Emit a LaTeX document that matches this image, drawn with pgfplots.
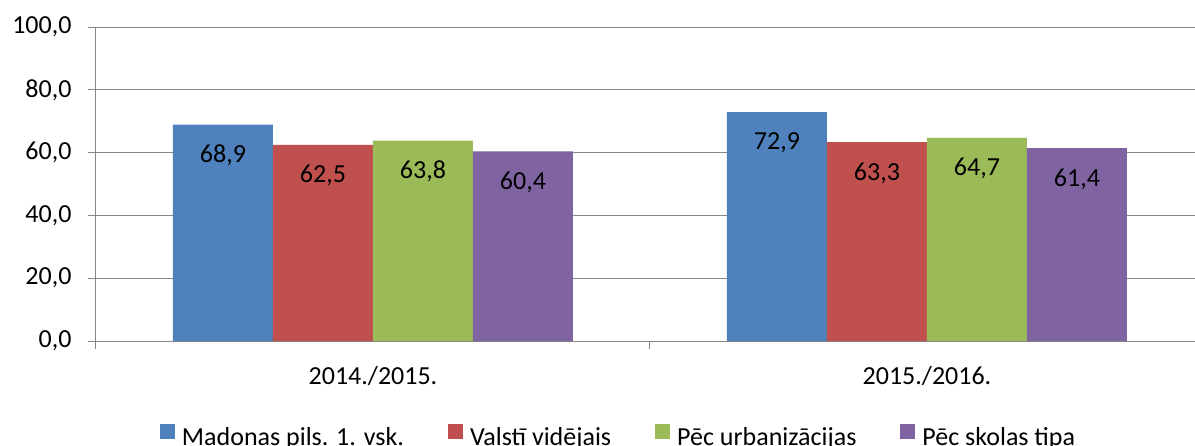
\documentclass[border=0pt]{standalone}
\usepackage{fontspec}
\setmainfont{Carlito}
\usepackage{pgfplots}
\pgfplotsset{compat=1.18}
\definecolor{cblue}{HTML}{4F81BD}
\definecolor{cred}{HTML}{C0504D}
\definecolor{cgreen}{HTML}{9BBB59}
\definecolor{cpurple}{HTML}{8064A2}
\definecolor{gridgray}{HTML}{868686}
\begin{document}
\begin{tikzpicture}
\begin{axis}[
  scale only axis, width=1108pt, height=314pt,
  font=\fontsize{26}{31}\selectfont,
  /pgf/number format/.cd, use comma, fixed, fixed zerofill, precision=1, 1000 sep={}, assume math mode=true,
  /pgfplots/.cd,
  ybar=0pt, bar width=100pt,
  xmin=-0.5, xmax=1.5, ymin=0, ymax=100,
  xtick={-0.5,0.5,1.5}, xticklabels={},
  extra x ticks={0,1}, extra x tick labels={2014./2015.,2015./2016.},
  extra x tick style={major tick length=0pt, grid=none, xticklabel style={yshift=-22pt}},
  ytick={0,20,40,60,80,100},
  ymajorgrids, grid style={gridgray, line width=1pt},
  axis x line*=bottom, axis y line*=left,
  axis line style={-, gridgray, line width=1pt},
  every outer x axis line/.append style={-},
  every outer y axis line/.append style={-},
  tick align=outside, major tick length=8pt,
  tick style={gridgray, line width=1pt},
  yticklabel style={xshift=-13pt},
  nodes near coords,
  every node near coord/.append style={anchor=north, yshift=-17pt, black},
  legend columns=4,
  legend style={draw=none, fill=none, at={(0.4707,-0.300)}, anchor=center,
    font=\fontsize{26}{31}\selectfont,
    /tikz/every odd column/.append style={column sep=7pt},
    /tikz/every even column/.append style={column sep=44pt},
    nodes={inner sep=0pt}},
  legend image code/.code={\path[#1,draw=none] (0pt,-2pt) rectangle (15pt,13pt);},
]
\addplot[fill=cblue, draw=none] coordinates {(0,68.9) (1,72.9)};
\addplot[fill=cred, draw=none] coordinates {(0,62.5) (1,63.3)};
\addplot[fill=cgreen, draw=none] coordinates {(0,63.8) (1,64.7)};
\addplot[fill=cpurple, draw=none] coordinates {(0,60.4) (1,61.4)};
\legend{Madonas pils. 1. vsk., Valstī vidējais, Pēc urbanizācijas, Pēc skolas tipa}
\coordinate (sw) at (rel axis cs:0,0);
\end{axis}
\pgfresetboundingbox
\path ([shift={(-96pt,-104pt)}]sw) rectangle ([shift={(1099pt,341pt)}]sw);
\end{tikzpicture}
\end{document}
